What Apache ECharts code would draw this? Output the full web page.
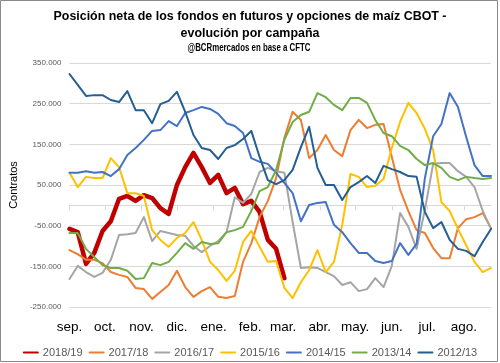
<!DOCTYPE html>
<html>
<head>
<meta charset="utf-8">
<script src="https://cdn.jsdelivr.net/npm/echarts@6/dist/echarts.min.js"></script>
<style>
html,body{margin:0;padding:0;background:#fff;}
#chart{width:500px;height:363px;}
</style>
</head>
<body>
<div id="chart"></div>
<script>
// Month labels and the day (from 1 Sep) on which each month starts
const monthLabels = ['sep.','oct.','nov.','dic.','ene.','feb.','mar.','abr.','may.','jun.','jul.','ago.'];
const monthStartDay = [0,30,61,91,122,153,181,212,242,273,303,334];
const weekStep = 7;      // weekly data
const axisDays = 358;    // 52 weekly points

// Net position of funds, thousands of contracts, weekly from start of September
const seasonNames = ['2018/19','2017/18','2016/17','2015/16','2014/15','2013/14','2012/13'];
const s2018_19 = [-58,-66,-144,-117,-63,-39,16,23,11,25,18,-7,-21,50,94,129,94,55,75,30,43,3,11,-16,-85,-107,-179];
const s2017_18 = [-110,-120,-134,-134,-142,-164,-171,-176,-203,-206,-230,-213,-196,-161,-201,-225,-211,-201,-225,-228,-223,-139,-93,-29,11,67,166,230,210,116,136,173,136,121,185,210,190,198,200,119,38,-14,-61,-68,-105,-130,-130,-56,-34,-29,-19,-56];
const s2016_17 = [-181,-149,-164,-176,-166,-134,-73,-71,-68,-29,-88,-63,-68,-73,-75,-100,-115,-100,-88,-66,20,6,28,82,92,84,80,-41,-154,-152,-154,-164,-174,-196,-189,-211,-206,-179,-201,-149,-19,-53,-107,-11,102,104,104,84,70,45,-14,-58];
const s2015_16 = [80,45,70,67,67,116,94,30,30,23,-61,-85,-102,-80,-68,-41,-85,-139,-159,-186,-161,-90,-63,-102,-139,-137,-203,-228,-189,-159,-110,-164,-139,-48,77,70,45,48,65,141,205,252,227,188,136,8,-14,-58,-98,-139,-164,-154];
const s2014_15 = [80,80,84,80,82,72,89,124,141,161,183,185,207,195,227,234,242,237,225,202,195,178,116,107,102,80,55,30,-39,1,6,8,-48,-66,-93,-117,-117,-137,-142,-137,-93,-122,-95,67,170,200,276,242,168,99,72,72];
const s2013_14 = [-68,-68,-107,-127,-147,-154,-154,-161,-181,-179,-142,-147,-139,-117,-93,-107,-90,-95,-93,-66,-61,-53,-14,35,45,87,161,205,222,230,276,266,247,234,264,264,252,210,178,170,146,136,114,99,104,92,70,62,70,67,65,67];
const s2012_13 = [323,296,269,271,271,259,254,281,234,234,202,249,257,279,230,173,141,136,114,141,148,163,183,119,62,52,62,87,143,193,92,50,50,13,45,57,72,55,97,89,82,72,70,-16,-56,-41,-85,-107,-112,-125,-90,-58];
const seasonData = [s2018_19,s2017_18,s2016_17,s2015_16,s2014_15,s2013_14,s2012_13];
const yTicks = {min:-250, max:350, interval:100};

const titleLine1 = 'Posición neta de los fondos en futuros y opciones de maíz CBOT -';
const titleLine2 = 'evolución por campaña';
const subTitle = '@BCRmercados en base a CFTC';

const colors = ['#C00000','#ED7D31','#A5A5A5','#FFC000','#4472C4','#70AD47','#255E91'];
const widths = [4.5,2,2,2,2,2,2];

const days = [];
for (let d = 0; d < axisDays; d++) days.push(String(d));
const isMonthStart = (idx) => monthStartDay.indexOf(idx) >= 0;

// emulate a narrow bold face by horizontal scaling
const ctx = document.createElement('canvas').getContext('2d');
const titleFont = 'bold 13.5px "Liberation Sans"';
const subFont = 'bold 10px "Liberation Sans"';
ctx.font = titleFont;
const titleScale = 393 / ctx.measureText(titleLine1).width;
ctx.font = subFont;
const subScale = 123 / ctx.measureText(subTitle).width;

const chart = echarts.init(document.getElementById('chart'), null, {renderer:'canvas'});
chart.setOption({
  animation:false,
  backgroundColor:'#fff',
  graphic:[
    {type:'rect', shape:{x:0.5,y:0.5,width:497,height:361}, style:{fill:'none', stroke:'#8a8a8a', lineWidth:1}, silent:true, z:-1},
    {type:'text', x:250, y:16, scaleX:titleScale, style:{text:titleLine1, font:titleFont, fill:'#000', textAlign:'center', textVerticalAlign:'middle'}},
    {type:'text', x:250, y:33, scaleX:titleScale, style:{text:titleLine2, font:titleFont, fill:'#000', textAlign:'center', textVerticalAlign:'middle'}},
    {type:'text', x:249, y:48, scaleX:subScale, style:{text:subTitle, font:subFont, fill:'#000', textAlign:'center', textVerticalAlign:'middle'}}
  ],
  legend:{
    data:seasonNames, top:342, left:'center', itemWidth:14, itemHeight:14, itemGap:6,
    itemStyle:{opacity:0},
    textStyle:{fontFamily:'Liberation Sans', fontSize:11, color:'#595959'}
  },
  grid:{left:65, right:9, top:63, bottom:56},
  xAxis:[
    {type:'category', data:days, boundaryGap:false, position:'bottom',
     axisLine:{show:false, onZero:false}, axisTick:{show:false}, splitLine:{show:false},
     axisLabel:{interval:(i)=>isMonthStart(i), formatter:(v,i)=>monthLabels[monthStartDay.indexOf(Number(v))],
       fontFamily:'Liberation Sans', fontSize:13.5, color:'#000', margin:13}},
    {type:'category', data:days, boundaryGap:false, position:'bottom',
     axisLine:{show:true, onZero:true, onZeroAxisIndex:0, lineStyle:{color:'#d9d9d9', width:1}},
     axisTick:{show:true, interval:(i)=>isMonthStart(i), length:5, lineStyle:{color:'#d9d9d9'}},
     axisLabel:{show:false}, splitLine:{show:false}}
  ],
  yAxis:{
    type:'value', min:yTicks.min, max:yTicks.max, interval:yTicks.interval,
    name:'Contratos', nameLocation:'middle', nameGap:47, nameRotate:90,
    nameTextStyle:{fontFamily:'Liberation Sans', fontSize:11, color:'#000'},
    axisLine:{show:false}, axisTick:{show:false},
    splitLine:{lineStyle:{color:'#d9d9d9', width:1}},
    axisLabel:{formatter:(v)=>v + '.000', fontFamily:'Liberation Sans', fontSize:8, color:'#595959', margin:8}
  },
  series: seasonNames.map((name, k) => ({
    name, type:'line', xAxisIndex:0, symbol:'none', smooth:false,
    data: seasonData[k].map((v, i) => [i * weekStep, v]),
    lineStyle:{color:colors[k], width:widths[k], cap:'round', join:'round'},
    itemStyle:{color:colors[k]}
  }))
});
</script>
</body>
</html>
